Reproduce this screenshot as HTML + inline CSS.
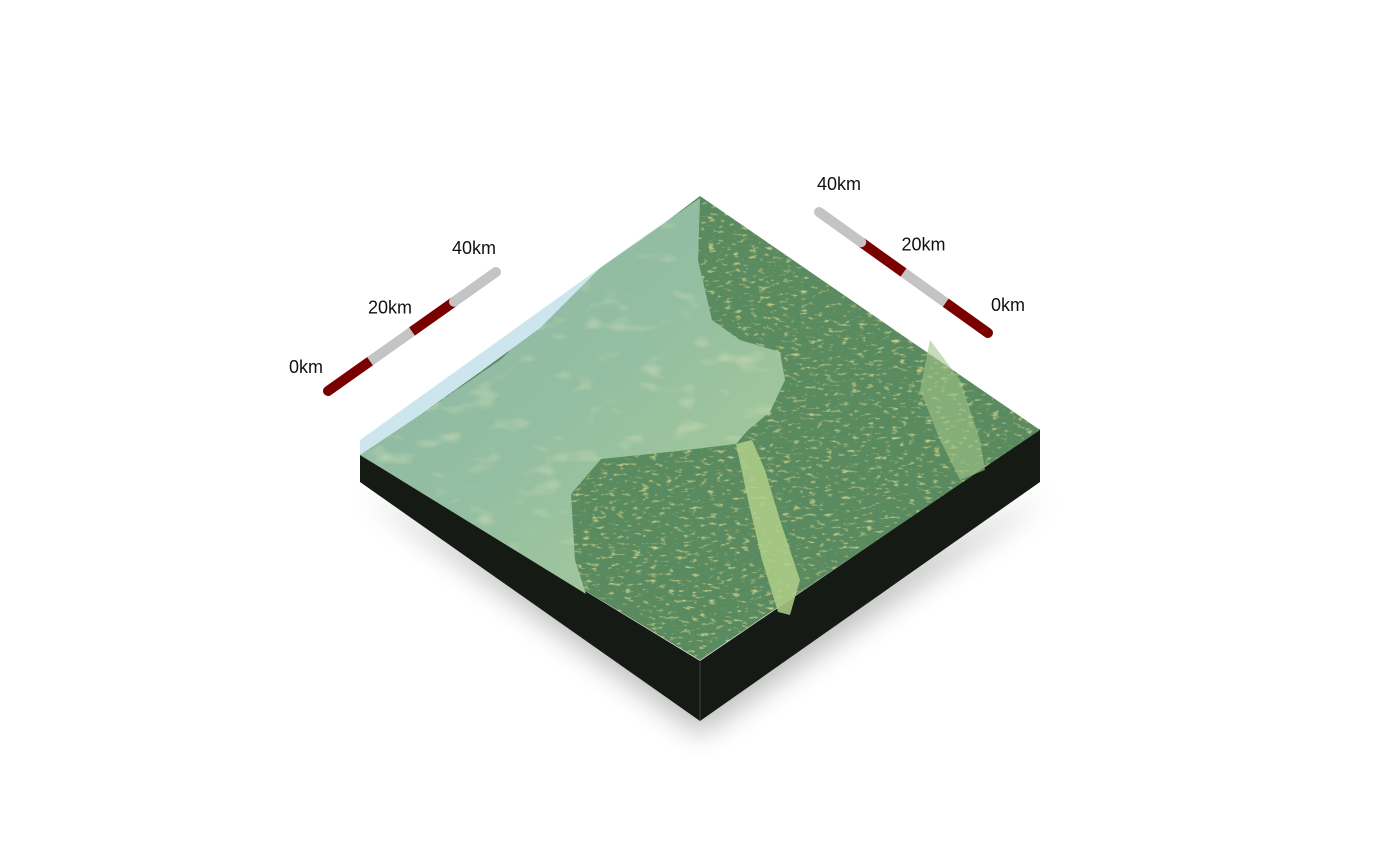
<!DOCTYPE html>
<html><head><meta charset="utf-8"><style>
html,body{margin:0;padding:0;background:#fff;}
svg{display:block;}
text{font-family:"Liberation Sans",sans-serif;font-size:18px;fill:#111;}
</style></head><body>
<svg id="chart" width="1400" height="866" viewBox="0 0 1400 866" xmlns="http://www.w3.org/2000/svg">
<defs>
<filter id="blur" x="-30%" y="-30%" width="160%" height="160%"><feGaussianBlur stdDeviation="14"/></filter>
<filter id="rough" x="0" y="0" width="100%" height="100%">
<feTurbulence type="fractalNoise" baseFrequency="0.12 0.3" numOctaves="3" seed="4" result="n"/>
<feColorMatrix in="n" type="matrix" values="0 0 0 0 0.85  0 0 0 0 0.88  0 0 0 0 0.35  0 0 0 2.2 -1.3" result="y"/>
<feComposite in="y" in2="SourceGraphic" operator="in" result="yc"/>
<feMerge><feMergeNode in="SourceGraphic"/><feMergeNode in="yc"/></feMerge>
</filter>
<filter id="soft" x="0" y="0" width="100%" height="100%">
<feTurbulence type="fractalNoise" baseFrequency="0.03 0.06" numOctaves="2" seed="9" result="n"/>
<feColorMatrix in="n" type="matrix" values="0 0 0 0 0.8  0 0 0 0 0.87  0 0 0 0 0.55  0 0 0 1.2 -0.7" result="y"/>
<feComposite in="y" in2="SourceGraphic" operator="in" result="yc"/>
<feMerge><feMergeNode in="SourceGraphic"/><feMergeNode in="yc"/></feMerge>
</filter>
<linearGradient id="lightg" x1="0" y1="0" x2="1" y2="1">
<stop offset="0" stop-color="#8ab8a6"/><stop offset="0.5" stop-color="#94bea2"/><stop offset="1" stop-color="#a8cc96"/>
</linearGradient>
</defs>

<polygon points="360,490 700,735 1050,495 700,660" fill="#000" opacity="0.25" filter="url(#blur)"/>

<polygon points="360,454 700,661 700,721 360,482" fill="#151a14"/>
<polygon points="700,661 1040,429 1040,482 700,721" fill="#151a14"/>
<line x1="700" y1="662" x2="700" y2="721" stroke="#444" stroke-width="1"/>

<polygon points="700,196 1040,430 700,660 360,455" fill="#5a8b60" filter="url(#rough)"/>
<polygon points="700,198 698,260 712,320 740,340 780,352 785,380 770,412 748,430 736,444 678,451 601,459 571,494 575,560 586,594 360,455 420,415 500,360 600,268" fill="url(#lightg)" filter="url(#soft)"/>
<polygon points="736,444 752,440 765,470 780,520 800,580 790,615 778,612 762,560 748,500" fill="#b0cf8a" opacity="0.85"/>
<polygon points="930,340 960,380 980,440 985,470 960,480 940,440 920,390" fill="#a0c488" opacity="0.6"/>
<polygon points="700,196 360,440 360,455 420,415 480,372 540,328 600,268 660,225" fill="#cde6ee"/>

<g id="scalebars"></g>
</svg>
<script>
const ticks = [0, 20, 40];
const tickLabels = ["0km", "20km", "40km"];
const segments = [0, 1, 2, 3];
const maxKm = 40;
const g = document.getElementById('scalebars');
const NS = 'http://www.w3.org/2000/svg';
function bar(name, x0, y0, x1, y1, colors, labelOffsets) {
  const px = km => x0 + (x1 - x0) * km / maxKm;
  const py = km => y0 + (y1 - y0) * km / maxKm;
  segments.forEach(i => {
    const a = i * maxKm / segments.length, b = (i + 1) * maxKm / segments.length;
    const l = document.createElementNS(NS, 'line');
    
    
    l.setAttribute('x1', px(a)); l.setAttribute('y1', py(a));
    l.setAttribute('x2', px(b)); l.setAttribute('y2', py(b));
    l.setAttribute('stroke', colors[i % 2]);
    l.setAttribute('stroke-width', 10);
    l.setAttribute('stroke-linecap', i === 0 || i === segments.length - 1 ? 'round' : 'butt');
    g.appendChild(l);
  });
  ticks.forEach((t, i) => {
    const tx = document.createElementNS(NS, 'text');
    
    
    tx.setAttribute('x', px(t) + labelOffsets[0]);
    tx.setAttribute('y', py(t) + labelOffsets[1]);
    tx.setAttribute('text-anchor', 'middle');
    tx.textContent = tickLabels[i];
    g.appendChild(tx);
  });
}
bar('left-scale-bar', 328, 391, 496, 272, ['#7a0000', '#c4c4c4'], [-22, -18]);
bar('right-scale-bar', 988, 333, 819, 212, ['#7a0000', '#c4c4c4'], [20, -22]);
</script>
</body></html>
